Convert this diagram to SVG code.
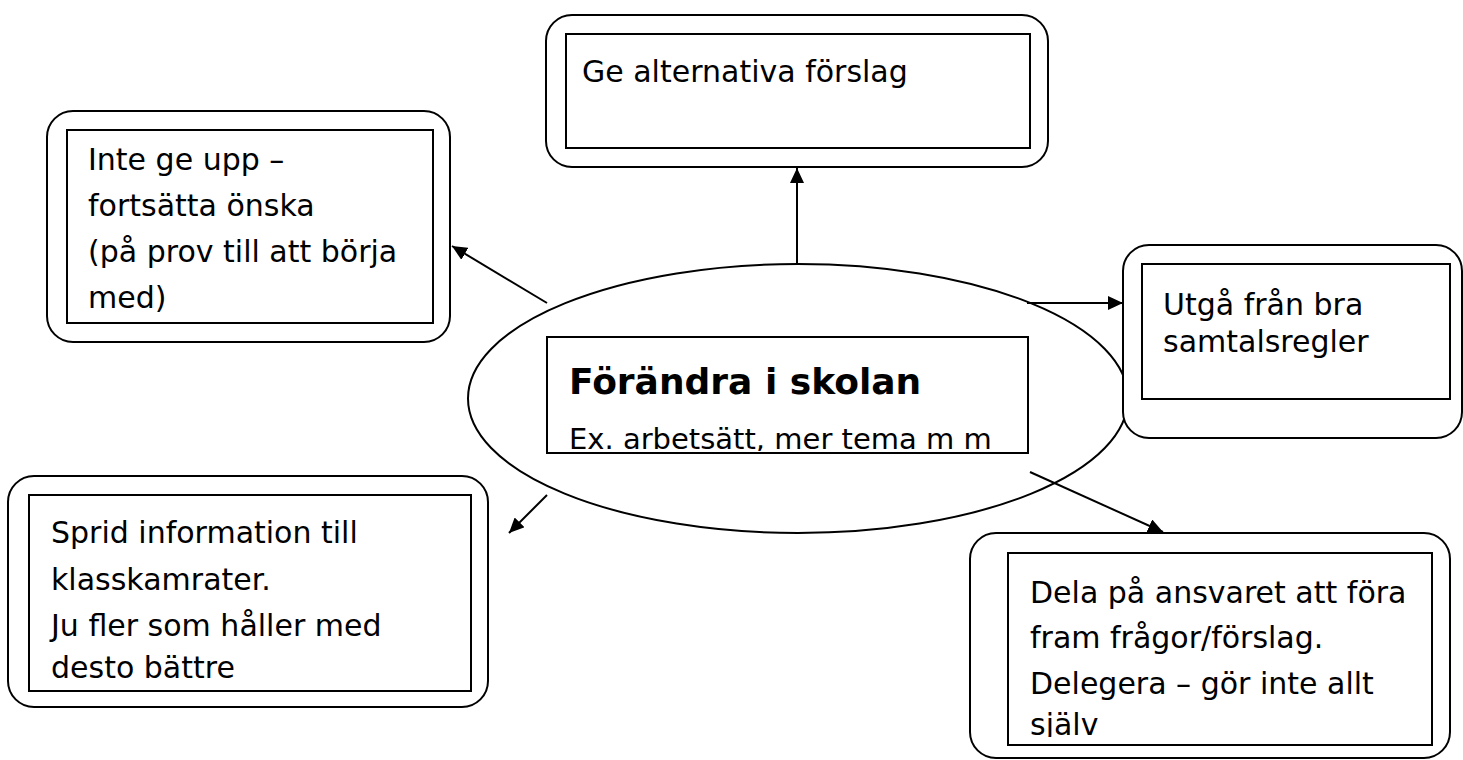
<svg xmlns="http://www.w3.org/2000/svg" width="1463" height="760" viewBox="0 0 1463 760">
<style>
.outer{fill:#fff;stroke:#000;stroke-width:2}
.inner{fill:#fff;stroke:#000;stroke-width:2}
.t{font-family:"DejaVu Sans","Liberation Sans",sans-serif;font-size:30px;fill:#000}
.title{font-family:"DejaVu Sans","Liberation Sans",sans-serif;font-size:36px;font-weight:bold;fill:#000}
.conn{stroke:#000;stroke-width:2;fill:none;marker-end:url(#arrow)}
</style>
<defs>
<marker id="arrow" viewBox="0 0 15 14" refX="15" refY="7" markerWidth="15" markerHeight="14" markerUnits="userSpaceOnUse" orient="auto">
<path d="M0,0 L15,7 L0,14 z" fill="#000"/>
</marker>
<clipPath id="clipCenter"><rect x="547" y="337" width="481" height="114"/></clipPath>
<clipPath id="clipDela"><rect x="1008" y="553" width="424" height="184"/></clipPath>
</defs>
<rect width="1463" height="760" fill="#fff"/>

<g id="connectors">
<line class="conn" x1="797" y1="265" x2="797" y2="168"/>
<line class="conn" x1="547" y1="303" x2="452" y2="246"/>
<line class="conn" x1="1027" y1="303" x2="1123" y2="303"/>
<line class="conn" x1="547" y1="495" x2="509" y2="533"/>
<line class="conn" x1="1030" y1="472" x2="1163" y2="532"/>
</g>

<g id="center">
<ellipse cx="798" cy="398.5" rx="330" ry="134.5" fill="none" stroke="#000" stroke-width="2"/>
<rect class="inner" x="547" y="337" width="481" height="116"/>
<g clip-path="url(#clipCenter)">
<text class="title" x="569" y="394">Förändra i skolan</text>
<text class="t" x="569" y="449" style="font-size:29px">Ex. arbetsätt, mer tema m m</text>
</g>
</g>

<g id="node-top">
<rect class="outer" x="546" y="15" width="502" height="152" rx="26"/>
<rect class="inner" x="566" y="34" width="464" height="114"/>
<text class="t" x="582" y="82">Ge alternativa förslag</text>
</g>

<g id="node-left-top">
<rect class="outer" x="47" y="111" width="403" height="231" rx="26"/>
<rect class="inner" x="67" y="130" width="366" height="193"/>
<text class="t" x="88" y="170">Inte ge upp –</text>
<text class="t" x="88" y="216">fortsätta önska</text>
<text class="t" x="88" y="262">(på prov till att börja</text>
<text class="t" x="88" y="308">med)</text>
</g>

<g id="node-right">
<rect class="outer" x="1123" y="245" width="339" height="193" rx="26"/>
<rect class="inner" x="1142" y="264" width="308" height="135"/>
<text class="t" x="1163" y="315">Utgå från bra</text>
<text class="t" x="1163" y="352">samtalsregler</text>
</g>

<g id="node-bottom-left">
<rect class="outer" x="8" y="476" width="480" height="231" rx="26"/>
<rect class="inner" x="29" y="495" width="442" height="196"/>
<text class="t" x="51" y="543">Sprid information till</text>
<text class="t" x="51" y="590">klasskamrater.</text>
<text class="t" x="51" y="636">Ju fler som håller med</text>
<text class="t" x="51" y="678">desto bättre</text>
</g>

<g id="node-bottom-right">
<rect class="outer" x="970" y="533" width="480" height="225" rx="26"/>
<rect class="inner" x="1008" y="553" width="424" height="192"/>
<g clip-path="url(#clipDela)">
<text class="t" x="1030" y="603">Dela på ansvaret att föra</text>
<text class="t" x="1030" y="648">fram frågor/förslag.</text>
<text class="t" x="1030" y="694">Delegera – gör inte allt</text>
<text class="t" x="1030" y="735">själv</text>
</g>
</g>
</svg>
